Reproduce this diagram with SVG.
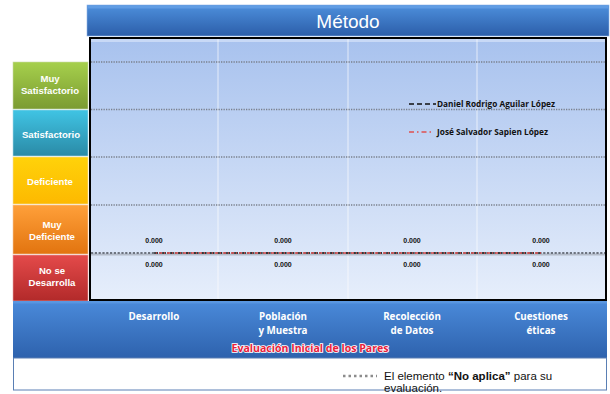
<svg xmlns="http://www.w3.org/2000/svg" width="610" height="394" viewBox="0 0 610 394">
<defs>
<linearGradient id="gBlue" x1="0" y1="0" x2="0" y2="1"><stop offset="0" stop-color="#4d8fdc"/><stop offset="1" stop-color="#2c5ea9"/></linearGradient>
<linearGradient id="gBand" x1="0" y1="0" x2="0" y2="1"><stop offset="0" stop-color="#4a8ada"/><stop offset="1" stop-color="#2e62ad"/></linearGradient>
<linearGradient id="gPlot" x1="0" y1="0" x2="0" y2="1"><stop offset="0" stop-color="#a8c2ee"/><stop offset="1" stop-color="#e6eefb"/></linearGradient>
<linearGradient id="gGreen" x1="0" y1="0" x2="0" y2="1"><stop offset="0" stop-color="#a6d04c"/><stop offset="1" stop-color="#7b9b32"/></linearGradient>
<linearGradient id="gCyan" x1="0" y1="0" x2="0" y2="1"><stop offset="0" stop-color="#40c4e4"/><stop offset="1" stop-color="#2a8aa6"/></linearGradient>
<linearGradient id="gYellow" x1="0" y1="0" x2="0" y2="1"><stop offset="0" stop-color="#ffd20a"/><stop offset="1" stop-color="#fdb900"/></linearGradient>
<linearGradient id="gOrange" x1="0" y1="0" x2="0" y2="1"><stop offset="0" stop-color="#ffa03a"/><stop offset="1" stop-color="#e2740f"/></linearGradient>
<linearGradient id="gRed" x1="0" y1="0" x2="0" y2="1"><stop offset="0" stop-color="#e44a4a"/><stop offset="1" stop-color="#b22a2a"/></linearGradient>
</defs>
<style>
.lvl{font-family:"Liberation Sans",Arial,sans-serif;font-weight:bold;font-size:9.6px;fill:#ffffff;text-anchor:middle}
.col{font-family:"Open Sans","Liberation Sans",sans-serif;font-weight:bold;font-size:9.8px;fill:#ffffff;text-anchor:middle}
.val{font-family:"Liberation Sans",Arial,sans-serif;font-weight:bold;font-size:7px;fill:#111111;text-anchor:middle}
.leg{font-family:"Open Sans","Liberation Sans",sans-serif;font-weight:bold;font-size:8px;fill:#111111}
.grid{stroke:#7a808c;stroke-width:1.3;stroke-dasharray:1.3 1.2;fill:none}
.vgrid{stroke:#ffffff;stroke-width:0.8;opacity:0.85}
</style>
<rect width="610" height="394" fill="#ffffff"/>

<g id="title">
<rect x="87" y="5" width="522" height="31" fill="url(#gBlue)" stroke="#8fb4e6" stroke-width="0.6"/>
<rect x="88" y="5.5" width="520" height="3" fill="#6aa4e8" opacity="0.7"/>
<text x="348" y="28" font-family="Liberation Sans,Arial,sans-serif" font-size="19" fill="#ffffff" text-anchor="middle">Método</text>
</g>

<g id="plot">
<rect x="89" y="37" width="518" height="264" fill="#000000"/>
<rect x="91" y="39" width="514" height="260" fill="url(#gPlot)"/>
<rect x="91" y="39" width="514" height="3" fill="#c8d9f6"/>
<line class="vgrid" x1="218" y1="39" x2="218" y2="299"/>
<line class="vgrid" x1="348" y1="39" x2="348" y2="299"/>
<line class="vgrid" x1="477" y1="39" x2="477" y2="299"/>
<line class="grid" x1="91" y1="62" x2="605" y2="62"/>
<line class="grid" x1="91" y1="109.5" x2="605" y2="109.5"/>
<line class="grid" x1="91" y1="157" x2="605" y2="157"/>
<line class="grid" x1="91" y1="205" x2="605" y2="205"/>
</g>

<g id="lvl-muy-satisfactorio">
<rect x="13" y="62" width="75" height="47" fill="url(#gGreen)" stroke="#c9d9a8" stroke-width="0.6"/>
<text class="lvl" x="50" y="82">Muy</text>
<text class="lvl" x="50" y="94">Satisfactorio</text>
</g>
<g id="lvl-satisfactorio">
<rect x="13" y="110" width="75" height="46" fill="url(#gCyan)" stroke="#a9dbe8" stroke-width="0.6"/>
<text class="lvl" x="51" y="138">Satisfactorio</text>
</g>
<g id="lvl-deficiente">
<rect x="13" y="157" width="75" height="47" fill="url(#gYellow)" stroke="#f5e2a0" stroke-width="0.6"/>
<text class="lvl" x="50" y="185">Deficiente</text>
</g>
<g id="lvl-muy-deficiente">
<rect x="13" y="205" width="75" height="49" fill="url(#gOrange)" stroke="#f5c8a0" stroke-width="0.6"/>
<text class="lvl" x="52" y="228">Muy</text>
<text class="lvl" x="52" y="240">Deficiente</text>
</g>
<g id="lvl-no-se-desarrolla">
<rect x="13" y="255" width="75" height="46" fill="url(#gRed)" stroke="#e8a8a8" stroke-width="0.6"/>
<text class="lvl" x="52" y="274">No se</text>
<text class="lvl" x="52" y="286">Desarrolla</text>
</g>

<g id="connectors">
<line x1="91" y1="254.5" x2="605" y2="254.5" stroke="#9aa0aa" stroke-width="2" opacity="0.6"/>
<line x1="91" y1="253" x2="605" y2="253" stroke="#6e7480" stroke-width="2.2" stroke-dasharray="2.2 1.6"/>
<line x1="154" y1="253" x2="541" y2="253" stroke="#222222" stroke-width="1.3" stroke-dasharray="4 4"/>
<line x1="154" y1="253" x2="541" y2="253" stroke="#d84a4a" stroke-width="1.3" stroke-dasharray="3 2 1 2" stroke-dashoffset="3"/>
</g>

<g id="values">
<text class="val" x="154" y="243">0.000</text>
<text class="val" x="283" y="243">0.000</text>
<text class="val" x="412" y="243">0.000</text>
<text class="val" x="541" y="243">0.000</text>
<text class="val" x="154" y="267">0.000</text>
<text class="val" x="283" y="267">0.000</text>
<text class="val" x="412" y="267">0.000</text>
<text class="val" x="541" y="267">0.000</text>
</g>

<g id="legend-series">
<line x1="409" y1="104" x2="436" y2="104" stroke="#111111" stroke-width="1.5" stroke-dasharray="5 3"/>
<text class="leg" x="437" y="107" textLength="118" lengthAdjust="spacingAndGlyphs">Daniel Rodrigo Aguilar López</text>
<line x1="409" y1="132" x2="432" y2="132" stroke="#e05050" stroke-width="1.5" stroke-dasharray="5 3 1.5 3"/>
<text class="leg" x="437" y="135" textLength="111" lengthAdjust="spacingAndGlyphs">José Salvador Sapien López</text>
</g>

<g id="axis-band">
<rect x="13" y="301" width="594" height="57" fill="url(#gBand)"/>
<rect x="13" y="301" width="594" height="2.5" fill="#5c9ae2" opacity="0.8"/>
<text class="col" x="154" y="320">Desarrollo</text>
<text class="col" x="283" y="320">Población</text>
<text class="col" x="283" y="334">y Muestra</text>
<text class="col" x="412" y="320">Recolección</text>
<text class="col" x="412" y="334">de Datos</text>
<text class="col" x="541" y="320">Cuestiones</text>
<text class="col" x="541" y="334">éticas</text>
<text x="310" y="352" font-family="Open Sans,Liberation Sans,sans-serif" font-weight="bold" font-size="10" fill="#e8203a" stroke="#ffffff" stroke-width="1.6" paint-order="stroke" text-anchor="middle" textLength="157" lengthAdjust="spacingAndGlyphs">Evaluación Inicial de los Pares</text>
</g>

<g id="legend-na">
<rect x="13.5" y="358" width="593" height="32" fill="#ffffff" stroke="#5a7fb4" stroke-width="1"/>
<line x1="343" y1="376" x2="377" y2="376" stroke="#8c8c8c" stroke-width="2.5" stroke-dasharray="2.5 3"/>
<text x="384" y="380" font-family="Liberation Sans,Arial,sans-serif" font-size="11.5" fill="#111111">El elemento <tspan font-weight="bold">“No aplica”</tspan> para su</text>
<text x="384" y="392" font-family="Liberation Sans,Arial,sans-serif" font-size="11.5" fill="#111111">evaluación.</text>
</g>
</svg>
